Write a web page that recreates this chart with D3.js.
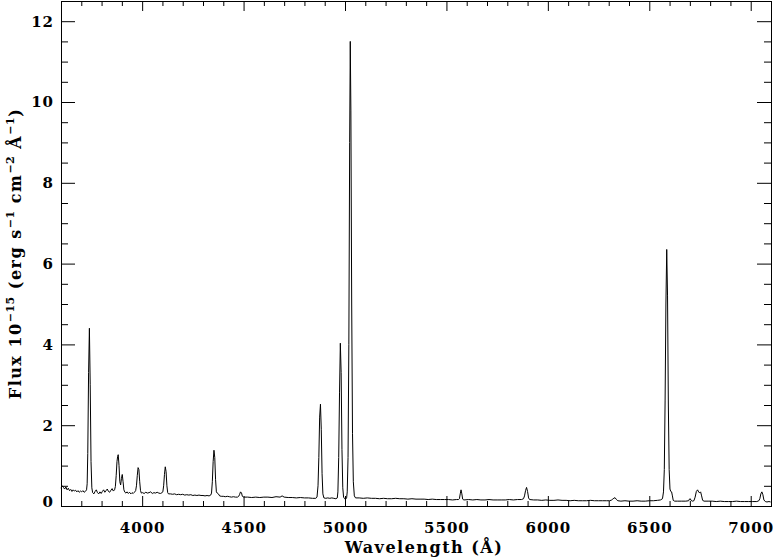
<!DOCTYPE html>
<html>
<head>
<meta charset="utf-8">
<script src="https://cdn.jsdelivr.net/npm/d3@7"></script>
<style>
  body { margin: 0; background: #fff; }
  svg text { font-family: "DejaVu Serif", serif; font-weight: bold; fill: #000; }
</style>
</head>
<body>
<script>
// Spectrum (Angstrom, 1e-15 erg/s/cm2/A)
const wavelength = [
  3600, 3606, 3612, 3618, 3624, 3630, 3636, 3642, 3648, 3654, 3660, 3666, 3672, 3678, 3684, 3690, 3696, 3702, 3708, 3714, 3720, 3726,
  3729, 3732, 3736, 3740, 3744, 3748, 3752, 3756,
  3762, 3768, 3774, 3780, 3786, 3792, 3798, 3804, 3810, 3816, 3822, 3828, 3834, 3840, 3846, 3852, 3858, 3864, 3868,
  3872, 3876, 3879, 3882, 3886, 3890, 3894, 3898, 3902, 3906, 3910, 3915,
  3920, 3926, 3932, 3938, 3944, 3950, 3956, 3962, 3968,
  3972, 3976, 3980, 3984, 3988, 3992, 3996,
  4002, 4010, 4018, 4026, 4034, 4042, 4050, 4058, 4066, 4074, 4082, 4090, 4098,
  4102, 4106, 4110, 4114, 4118, 4122, 4126, 4130,
  4140, 4150, 4160, 4170, 4180, 4190, 4200, 4210, 4220, 4230, 4240, 4250, 4260, 4270, 4280, 4290, 4300, 4310, 4320, 4330, 4338,
  4342, 4346, 4350, 4354, 4358, 4362, 4366, 4370, 4376, 4382,
  4390, 4400, 4410, 4420, 4430, 4440, 4450, 4460, 4470, 4476, 4480, 4485, 4490, 4494, 4500,
  4520, 4540, 4560, 4580, 4600, 4620, 4640, 4660, 4680, 4690, 4700, 4720, 4740, 4760, 4780, 4800, 4820, 4840, 4856,
  4862, 4867, 4871, 4875, 4879, 4883, 4887, 4891, 4896,
  4905, 4915, 4925, 4935, 4945, 4955, 4962,
  4965, 4969, 4973, 4977, 4981, 4985, 4989, 4993, 4998, 5003, 5008,
  5011, 5015, 5019, 5023, 5026, 5029, 5033, 5037, 5041, 5046, 5052,
  5070, 5090, 5110, 5130, 5150, 5170, 5190, 5210, 5230, 5250, 5270, 5290, 5310, 5330, 5350, 5370, 5390, 5410, 5430, 5450, 5470, 5490, 5510, 5530, 5550, 5560,
  5564, 5568, 5572, 5576, 5580, 5586,
  5610, 5630, 5650, 5670, 5690, 5710, 5730, 5750, 5770, 5790, 5810, 5830, 5850, 5870, 5880,
  5885, 5890, 5895, 5900, 5905, 5910,
  5930, 5950, 5970, 5990, 6010, 6030, 6050, 6070, 6090, 6110, 6130, 6150, 6170, 6190, 6210, 6230, 6250, 6270, 6290, 6305, 6315,
  6320, 6326, 6332, 6338, 6345,
  6360, 6380, 6400, 6420, 6440, 6460, 6480, 6500, 6520, 6540, 6555, 6565,
  6570, 6574, 6578, 6582, 6586, 6590, 6594, 6598, 6602, 6606, 6610, 6614, 6618, 6625,
  6640, 6660, 6680, 6694, 6698, 6702, 6706, 6712, 6720,
  6726, 6732, 6738, 6744, 6749, 6753, 6758, 6763, 6770,
  6790, 6810, 6830, 6850, 6870, 6890, 6910, 6930, 6950, 6970, 6990, 7010, 7030, 7040,
  7045, 7050, 7055, 7060, 7065, 7072,
  7080, 7090, 7098
];
const flux = [
  0.44, 0.50, 0.46, 0.42, 0.47, 0.40, 0.44, 0.38, 0.41, 0.36, 0.40, 0.37, 0.39, 0.35, 0.38, 0.34, 0.37, 0.35, 0.38, 0.34, 0.36, 0.40,
  0.55, 1.30, 3.30, 4.40, 3.00, 1.10, 0.45, 0.33,
  0.30, 0.36, 0.40, 0.33, 0.30, 0.35, 0.31, 0.36, 0.40, 0.34, 0.38, 0.42, 0.36, 0.34, 0.39, 0.43, 0.37, 0.40, 0.48,
  0.75, 1.10, 1.22, 1.27, 1.00, 0.60, 0.52, 0.68, 0.78, 0.60, 0.40, 0.34,
  0.32, 0.35, 0.31, 0.34, 0.30, 0.33, 0.31, 0.34, 0.38,
  0.50, 0.75, 0.95, 0.90, 0.60, 0.38, 0.32,
  0.33, 0.31, 0.34, 0.32, 0.33, 0.35, 0.31, 0.33, 0.32, 0.34, 0.32, 0.31, 0.33,
  0.35, 0.50, 0.78, 0.97, 0.85, 0.50, 0.33, 0.30,
  0.30, 0.29, 0.30, 0.28, 0.29, 0.28, 0.29, 0.27, 0.28, 0.27, 0.28, 0.26, 0.27, 0.26, 0.27, 0.26, 0.26, 0.25, 0.26, 0.25, 0.27,
  0.32, 0.60, 1.10, 1.38, 1.20, 0.65, 0.35, 0.32, 0.30, 0.25,
  0.24, 0.24, 0.23, 0.24, 0.23, 0.22, 0.23, 0.22, 0.22, 0.24, 0.28, 0.35, 0.32, 0.24, 0.22,
  0.22, 0.21, 0.22, 0.21, 0.22, 0.22, 0.21, 0.23, 0.22, 0.25, 0.22, 0.21, 0.21, 0.20, 0.21, 0.20, 0.20, 0.19, 0.19,
  0.22, 0.50, 1.20, 2.20, 2.52, 1.90, 0.80, 0.30, 0.20,
  0.19, 0.20, 0.19, 0.20, 0.19, 0.18, 0.20,
  0.35, 1.20, 2.80, 4.03, 3.30, 1.40, 0.45, 0.22, 0.18, 0.17, 0.20,
  0.35, 1.20, 4.00, 9.00, 11.50, 9.80, 5.00, 1.80, 0.60, 0.25, 0.20,
  0.20, 0.19, 0.20, 0.19, 0.19, 0.18, 0.19, 0.18, 0.18, 0.19, 0.18, 0.18, 0.17, 0.18, 0.17, 0.17, 0.17, 0.16, 0.17, 0.16, 0.16, 0.16, 0.16, 0.15, 0.16, 0.16,
  0.18, 0.30, 0.40, 0.30, 0.17, 0.15,
  0.16, 0.15, 0.16, 0.15, 0.15, 0.16, 0.15, 0.15, 0.15, 0.15, 0.16, 0.15, 0.16, 0.16, 0.18,
  0.25, 0.38, 0.46, 0.36, 0.20, 0.16,
  0.15, 0.15, 0.14, 0.15, 0.14, 0.14, 0.15, 0.14, 0.14, 0.13, 0.14, 0.13, 0.13, 0.13, 0.14, 0.13, 0.13, 0.13, 0.13, 0.13, 0.15,
  0.17, 0.20, 0.20, 0.16, 0.13,
  0.12, 0.13, 0.12, 0.12, 0.13, 0.12, 0.12, 0.13, 0.13, 0.14, 0.15, 0.18,
  0.35, 0.90, 2.60, 5.00, 6.35, 5.20, 2.50, 0.90, 0.42, 0.36, 0.35, 0.25, 0.14, 0.12,
  0.12, 0.12, 0.12, 0.13, 0.17, 0.18, 0.14, 0.12, 0.13,
  0.22, 0.36, 0.40, 0.34, 0.33, 0.35, 0.25, 0.14, 0.12,
  0.12, 0.12, 0.11, 0.12, 0.11, 0.11, 0.11, 0.12, 0.11, 0.11, 0.11, 0.11, 0.11, 0.13,
  0.18, 0.30, 0.35, 0.28, 0.15, 0.11,
  0.10, 0.11, 0.10
];

// Tick labels
const xTicks = [4000, 4500, 5000, 5500, 6000, 6500, 7000];
const yTicks = [0, 2, 4, 6, 8, 10, 12];

const width = 773, height = 558;
const plotLeft = 61, plotRight = 771, plotTop = 1, plotBottom = 506;

const svg = d3.select('body')
  .append('svg')
  .attr('width', width)
  .attr('height', height);

const x = d3.scaleLinear().domain([3600, 7100]).range([plotLeft, plotRight]);
const y = d3.scaleLinear().domain([0, 12.5]).range([plotBottom, plotTop]);

// minor ticks every 100 A and 0.5 flux units
const xMinor = d3.range(3600, 7101, 100).filter(v => v % 500 !== 0);
const yMinor = d3.range(0, 12.51, 0.5).filter(v => v % 2 !== 0);

function addAxis(axis, tx, ty) {
  const g = svg.append('g')
    .attr('transform', 'translate(' + tx + ',' + ty + ')')
    .call(axis);
  g.select('.domain').remove();
  g.selectAll('line').attr('stroke', '#000');
  return g;
}

// bottom axis with labels
const xb = addAxis(d3.axisBottom(x).tickValues(xTicks).tickSize(-10).tickPadding(16).tickFormat(d3.format('d')), 0, plotBottom);
xb.selectAll('text').style('font-size', '15px').style('letter-spacing', '1px').attr('fill', '#000');
addAxis(d3.axisBottom(x).tickValues(xMinor).tickSize(-5).tickFormat(''), 0, plotBottom);
// top axis
addAxis(d3.axisTop(x).tickValues(xTicks).tickSize(-10).tickFormat(''), 0, plotTop);
addAxis(d3.axisTop(x).tickValues(xMinor).tickSize(-5).tickFormat(''), 0, plotTop);

// left axis with labels
const yl = addAxis(d3.axisLeft(y).tickValues(yTicks).tickSize(-14).tickPadding(7).tickFormat(d3.format('d')), plotLeft, 0);
yl.selectAll('text').style('font-size', '15px').style('letter-spacing', '1px').attr('fill', '#000');
yl.selectAll('.tick').filter(d => d === 0).select('text').attr('dy', '0.0em');
addAxis(d3.axisLeft(y).tickValues(yMinor).tickSize(-7).tickFormat(''), plotLeft, 0);
// right axis
addAxis(d3.axisRight(y).tickValues(yTicks).tickSize(-14).tickFormat(''), plotRight, 0);
addAxis(d3.axisRight(y).tickValues(yMinor).tickSize(-7).tickFormat(''), plotRight, 0);

// frame
svg.append('rect')
  .attr('x', plotLeft + 0.5)
  .attr('y', plotTop + 0.5)
  .attr('width', plotRight - plotLeft)
  .attr('height', plotBottom - plotTop)
  .attr('fill', 'none')
  .attr('stroke', '#000')
  .attr('stroke-width', 1);

// spectrum
const line = d3.line()
  .x((d, i) => x(wavelength[i]))
  .y(d => y(d));

svg.append('path')
  .datum(flux)
  .attr('d', line)
  .attr('fill', 'none')
  .attr('stroke', '#000')
  .attr('stroke-width', 1);

// axis titles
svg.append('text')
  .attr('x', (plotLeft + plotRight) / 2 + 8)
  .attr('y', 553)
  .attr('text-anchor', 'middle')
  .style('font-size', '16px')
  .style('letter-spacing', '1.5px')
  .text('Wavelength (Å)');

const yt = svg.append('text')
  .attr('transform', 'translate(21,' + ((plotTop + plotBottom) / 2) + ') rotate(-90)')
  .attr('text-anchor', 'middle')
  .style('font-size', '16px')
  .style('letter-spacing', '1.5px');

// label pieces: [text, superscript?]
const yLabel = [['Flux 10', false], ['−15', true], [' (erg s', false], ['−1', true], [' cm', false], ['−2', true], [' Å', false], ['−1', true], [')', false]];
let shift = 0;
yLabel.forEach(p => {
  const dy = p[1] ? -7 : -shift;
  shift = p[1] ? -7 : 0;
  yt.append('tspan')
    .attr('dy', dy)
    .style('font-size', p[1] ? '11px' : null)
    .style('letter-spacing', p[1] ? '0.5px' : null)
    .text(p[0]);
});
</script>
</body>
</html>
